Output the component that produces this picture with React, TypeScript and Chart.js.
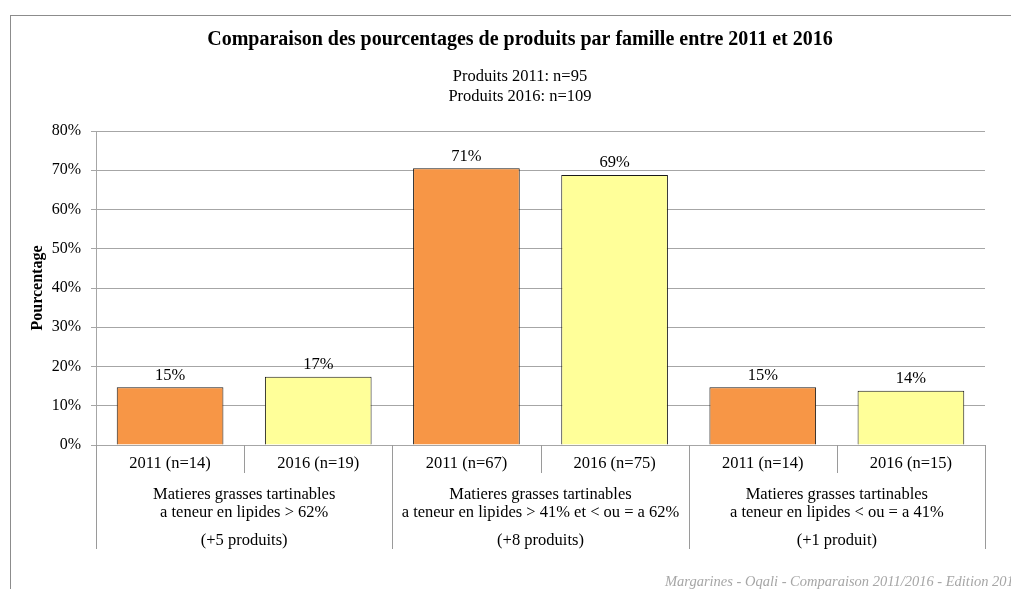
import React, { useEffect, useRef } from "react";
import { Chart, registerables } from "chart.js";

Chart.register(...registerables);

// ---- Data ----
const categories = ["2011 (n=14)", "2016 (n=19)", "2011 (n=67)", "2016 (n=75)", "2011 (n=14)", "2016 (n=15)"];
const percentages = [14.7, 17.4, 70.5, 68.8, 14.7, 13.8];
const percentLabels = ["15%", "17%", "71%", "69%", "15%", "14%"];
const barColors = ["#F79646", "#FFFF99", "#F79646", "#FFFF99", "#F79646", "#FFFF99"];
const groupLabels = [
  ["Matieres grasses tartinables", "a teneur en lipides > 62%"],
  ["Matieres grasses tartinables", "a teneur en lipides > 41% et < ou = a 62%"],
  ["Matieres grasses tartinables", "a teneur en lipides < ou = a 41%"],
];
const groupNotes = ["(+5 produits)", "(+8 produits)", "(+1 produit)"];
const groupSize = 2;
const yMin = 0;
const yMax = 80;
const yStep = 10;
const chartTitle = "Comparaison des pourcentages de produits par famille entre 2011 et 2016";
const subtitleLines = ["Produits 2011: n=95", "Produits 2016: n=109"];
const yAxisTitle = "Pourcentage";
const footerText = "Margarines - Oqali - Comparaison 2011/2016 - Edition 2017";

const FONT = '"Liberation Serif", serif';
const CANVAS_W = 1030;
const CANVAS_H = 589;

const framePlugin = {
  id: "frame",
  beforeDraw(chart: any) {
    const { ctx } = chart;
    ctx.save();
    ctx.fillStyle = "#ffffff";
    ctx.fillRect(0, 0, chart.width, chart.height);
    ctx.strokeStyle = "#8c8c8c";
    ctx.lineWidth = 1;
    ctx.strokeRect(10.5, 15.5, chart.width - 2, chart.height + 10);
    ctx.restore();
  },
};

const annotationsPlugin = {
  id: "annotations",
  afterDraw(chart: any) {
    const { ctx, chartArea } = chart;
    const x = chart.scales.x;
    const n = categories.length;
    const half = (x.getPixelForValue(1) - x.getPixelForValue(0)) / 2;
    const bottom = chartArea.bottom;
    ctx.save();
    // separators
    ctx.strokeStyle = "#9a9a9a";
    ctx.lineWidth = 1;
    for (let i = 0; i <= n; i++) {
      const px = i < n ? x.getPixelForValue(i) - half : x.getPixelForValue(n - 1) + half;
      const isGroup = i % groupSize === 0;
      const len = isGroup ? 104 : 28;
      const xx = Math.round(px) + 0.5;
      ctx.beginPath();
      ctx.moveTo(xx, bottom);
      ctx.lineTo(xx, bottom + len);
      ctx.stroke();
    }
    // category labels
    ctx.fillStyle = "#000";
    ctx.textAlign = "center";
    ctx.textBaseline = "middle";
    ctx.font = `16.5px ${FONT}`;
    categories.forEach((c, i) => {
      ctx.fillText(c, x.getPixelForValue(i), bottom + 19);
    });
    // group labels
    groupLabels.forEach((lines, g) => {
      const cx = (x.getPixelForValue(g * groupSize) + x.getPixelForValue(g * groupSize + groupSize - 1)) / 2;
      lines.forEach((l, j) => ctx.fillText(l, cx, bottom + 50 + j * 18));
      ctx.fillText(groupNotes[g], cx, bottom + 96);
    });
    // value labels
    const meta = chart.getDatasetMeta(0);
    meta.data.forEach((bar: any, i: number) => {
      ctx.fillText(percentLabels[i], bar.x, bar.y - 12);
    });
    // footer
    ctx.font = `italic 14.5px ${FONT}`;
    ctx.fillStyle = "#a6a6a6";
    ctx.textAlign = "left";
    ctx.fillText(footerText, 665, 582);
    ctx.restore();
  },
};

export default function App() {
  const ref = useRef<HTMLCanvasElement | null>(null);

  useEffect(() => {
    document.body.style.margin = "0";
    const canvas = ref.current;
    if (!canvas) return;
    const chart = new Chart(canvas, {
      type: "bar",
      data: {
        labels: categories,
        datasets: [
          {
            data: percentages,
            backgroundColor: barColors,
            borderColor: "#1a1a1a",
            borderWidth: 1,
            barPercentage: 0.72,
            categoryPercentage: 1,
          },
        ],
      },
      options: {
        responsive: false,
        animation: false,
        devicePixelRatio: 1,
        layout: { padding: { left: 10, right: 0, top: 0, bottom: 0 } },
        plugins: {
          legend: { display: false },
          tooltip: { enabled: false },
          title: {
            display: true,
            text: chartTitle,
            color: "#000",
            font: { family: FONT, size: 20, weight: "bold", lineHeight: 1.2 },
            padding: { top: 28, bottom: 15 },
          },
          subtitle: {
            display: true,
            text: subtitleLines,
            color: "#000",
            font: { family: FONT, size: 16.5, lineHeight: 20 / 16.5 },
            padding: { top: 0, bottom: 24 },
          },
        },
        scales: {
          x: {
            display: true,
            ticks: { display: false },
            grid: { display: false },
            border: { display: false },
            afterFit: (scale: any) => {
              scale.height = 144;
            },
          },
          y: {
            min: yMin,
            max: yMax,
            ticks: {
              stepSize: yStep,
              color: "#000",
              padding: 10,
              font: { family: FONT, size: 16 },
              callback: (v: any) => `${v}%`,
            },
            grid: { color: "#a6a6a6", lineWidth: 1, tickLength: 5 },
            border: { display: true, color: "#a6a6a6" },
            title: {
              display: true,
              text: yAxisTitle,
              color: "#000",
              font: { family: FONT, size: 16, weight: "bold", lineHeight: 1.2 },
              padding: { top: 18, bottom: 0 },
            },
            afterFit: (scale: any) => {
              scale.width = 86;
            },
          },
          yR: {
            position: "right",
            display: true,
            min: yMin,
            max: yMax,
            ticks: { display: false },
            grid: { display: false },
            border: { display: false },
            afterFit: (scale: any) => {
              scale.width = 45;
            },
          },
        },
      } as any,
      plugins: [framePlugin, annotationsPlugin],
    });
    return () => chart.destroy();
  }, []);

  return (
    <div
      style={{
        position: "fixed",
        left: 0,
        top: 0,
        width: 1011,
        height: 589,
        overflow: "hidden",
        background: "#fff",
      }}
    >
      <canvas ref={ref} width={CANVAS_W} height={CANVAS_H} style={{ width: CANVAS_W, height: CANVAS_H, display: "block" }} />
    </div>
  );
}
